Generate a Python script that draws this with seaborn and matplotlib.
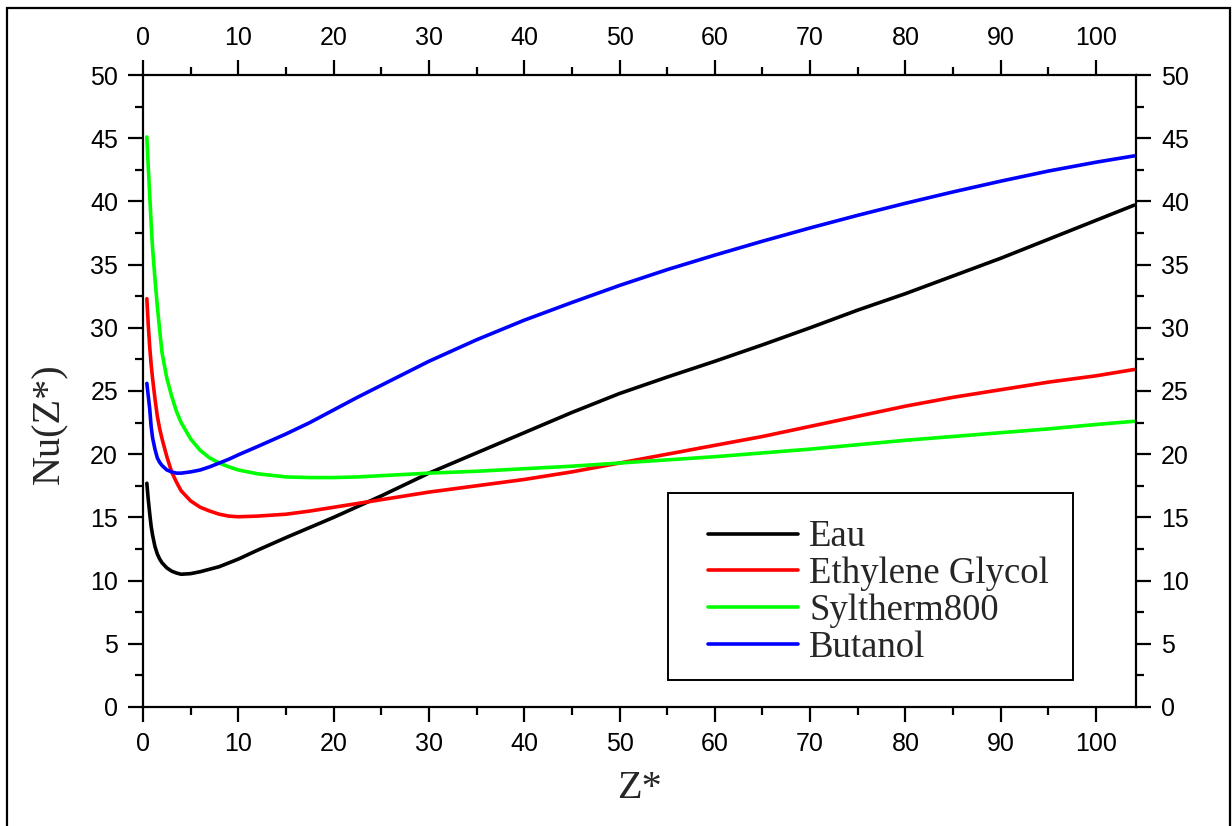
import numpy as np
import pandas as pd
import matplotlib
matplotlib.use("Agg")
import matplotlib.pyplot as plt
from matplotlib.ticker import MultipleLocator
from matplotlib.patches import Rectangle
import seaborn as sns

# Axial position Z* (shared by every fluid)
z_star = [0.4, 0.55, 0.7, 0.85, 1.0, 1.25, 1.5, 1.75, 2.0, 2.5,
          3.0, 3.5, 4.0, 5.0, 6.0, 7.0, 8.0, 9.0, 10.0, 12.0,
          15.0, 17.5, 20.0, 22.5, 25.0, 27.5, 30.0, 35.0, 40.0, 45.0,
          50.0, 55.0, 60.0, 65.0, 70.0, 75.0, 80.0, 85.0, 90.0, 95.0,
          100.0, 104.0]

# Local Nusselt number for each fluid
nu_eau = [17.7, 16.4, 15.3, 14.3, 13.6, 12.7, 12.1, 11.7, 11.4, 11.0,
          10.75, 10.6, 10.5, 10.55, 10.7, 10.9, 11.1, 11.4, 11.7, 12.4,
          13.4, 14.2, 15.0, 15.85, 16.7, 17.6, 18.5, 20.1, 21.7, 23.3,
          24.8, 26.1, 27.35, 28.65, 30.0, 31.4, 32.7, 34.1, 35.5, 37.0,
          38.5, 39.7]
nu_eg = [32.3, 30.2, 28.5, 27.1, 26.0, 24.4, 23.0, 22.0, 21.2, 19.8,
         18.6, 17.8, 17.1, 16.3, 15.8, 15.5, 15.25, 15.1, 15.05, 15.1,
         15.25, 15.5, 15.8, 16.1, 16.4, 16.7, 17.0, 17.5, 18.0, 18.6,
         19.3, 20.0, 20.7, 21.4, 22.2, 23.0, 23.8, 24.5, 25.1, 25.7,
         26.2, 26.7]
nu_syl = [45.1, 42.7, 40.5, 38.3, 36.3, 33.9, 31.7, 29.8, 28.0, 26.0,
          24.6, 23.4, 22.5, 21.2, 20.3, 19.7, 19.3, 19.0, 18.75, 18.45,
          18.2, 18.15, 18.15, 18.2, 18.3, 18.4, 18.5, 18.65, 18.85, 19.05,
          19.3, 19.55, 19.8, 20.1, 20.4, 20.75, 21.1, 21.4, 21.7, 22.0,
          22.35, 22.6]
nu_but = [25.6, 24.6, 23.6, 22.2, 21.3, 20.4, 19.7, 19.35, 19.1, 18.75,
          18.6, 18.5, 18.5, 18.6, 18.75, 19.0, 19.3, 19.6, 19.95, 20.6,
          21.6, 22.5, 23.5, 24.5, 25.45, 26.4, 27.35, 29.05, 30.6, 32.0,
          33.35, 34.6, 35.75, 36.85, 37.9, 38.9, 39.85, 40.75, 41.6, 42.4,
          43.1, 43.6]

fluids = ["Eau", "Ethylene Glycol", "Syltherm800", "Butanol"]
colors = ["#000000", "#FF0000", "#00FF00", "#0000FF"]

df = pd.concat([
    pd.DataFrame({"Z": z_star, "Nu": vals, "fluid": name})
    for name, vals in zip(fluids, [nu_eau, nu_eg, nu_syl, nu_but])
], ignore_index=True)

sns.set_theme(style="ticks")
plt.rcParams["font.family"] = ["Liberation Sans", "DejaVu Sans"]

fig = plt.figure(figsize=(12.32, 8.26), dpi=100)
ax = fig.add_axes([0.1161, 0.1441, 0.9221 - 0.1161, 0.9092 - 0.1441])

sns.lineplot(data=df, x="Z", y="Nu", hue="fluid", hue_order=fluids,
             palette=colors, sort=False, estimator=None, linewidth=2.6, ax=ax)

ax.set_xlim(0, 104.2)
ax.set_ylim(0, 50)
ax.xaxis.set_major_locator(MultipleLocator(10))
ax.xaxis.set_minor_locator(MultipleLocator(5))
ax.yaxis.set_major_locator(MultipleLocator(5))
ax.yaxis.set_minor_locator(MultipleLocator(2.5))

for sp in ax.spines.values():
    sp.set_visible(True)
    sp.set_linewidth(1.6)
    sp.set_color("black")

ax.tick_params(which="both", direction="out", top=True, right=True,
               labeltop=True, labelright=True, colors="black", width=1.6,
               labelsize=18, pad=7)
ax.tick_params(which="major", length=11)
ax.tick_params(which="minor", length=6)

serif = ["Liberation Serif", "DejaVu Serif"]
ax.set_xlabel("Z*", family=serif, fontsize=29, labelpad=10)
ax.set_ylabel("Nu(Z*)", family=serif, fontsize=29)
ax.yaxis.set_label_coords(-0.0755, 0.448)

# Legend entries without frame, boxed by a separate rectangle
handles, labels = ax.get_legend_handles_labels()
leg = ax.legend(handles, labels, loc="upper left",
                bbox_to_anchor=(0.569, 0.2959), frameon=False,
                prop={"family": serif, "size": 26.5},
                handlelength=2.45, handletextpad=0.3, labelspacing=0.06,
                borderpad=0, borderaxespad=0)
for line in leg.get_lines():
    line.set_linewidth(2.6)
ax.add_patch(Rectangle((0.5287, 0.0427), 0.9366 - 0.5287, 0.3386 - 0.0427,
                       transform=ax.transAxes, fill=False, edgecolor="black",
                       linewidth=1.4, zorder=5))

# Outer frame around the figure
fig.patches.append(Rectangle((0.0057, -0.02), 0.993, 1.01, transform=fig.transFigure,
                             fill=False, edgecolor="black", linewidth=1.6))

fig.savefig("out.png", dpi=100)
